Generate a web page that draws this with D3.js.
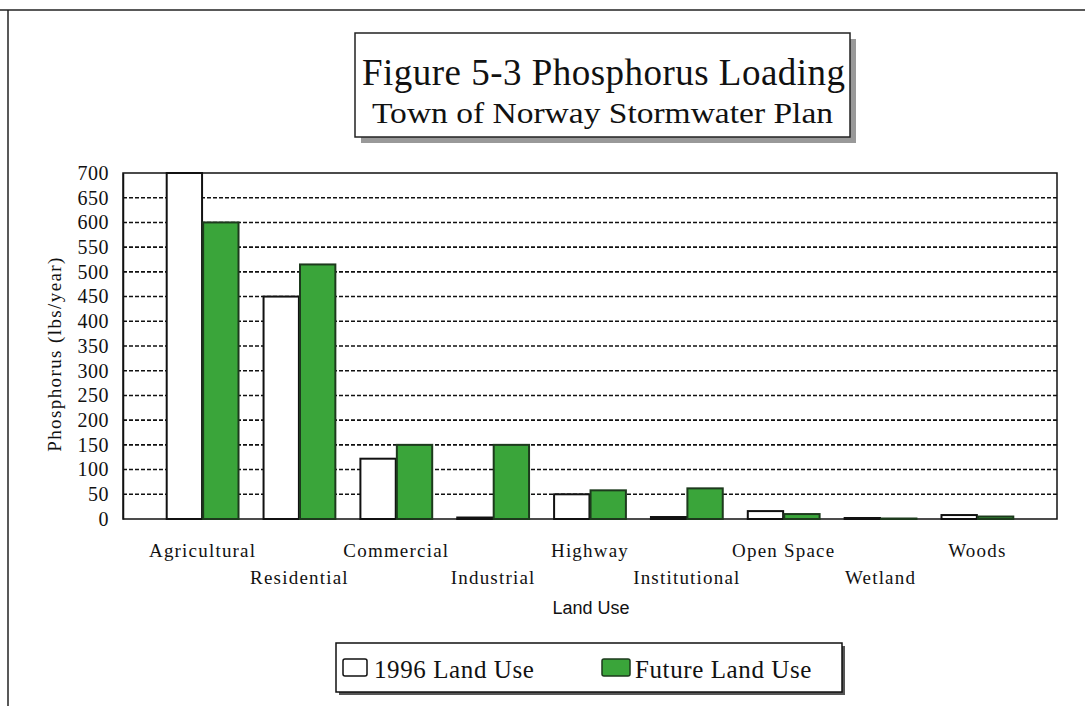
<!DOCTYPE html>
<html>
<head>
<meta charset="utf-8">
<script src="https://cdn.jsdelivr.net/npm/d3@7"></script>
<style>
  body { margin: 0; background: #fff; }
  svg { display: block; }
  .serif { font-family: 'Liberation Serif', 'Times New Roman', serif; fill: #111; }
  .sans { font-family: 'Liberation Sans', Arial, sans-serif; fill: #111; }
</style>
</head>
<body>
<div id="chart"></div>
<script>
// data
const categories = ['Agricultural', 'Residential', 'Commercial', 'Industrial', 'Highway',
  'Institutional', 'Open Space', 'Wetland', 'Woods'];
const landUse1996 = [700, 450, 122, 3, 50, 4, 16, 2, 8];
const landUseFuture = [600, 515, 150, 150, 58, 62, 10, 1, 5];
const seriesNames = ['1996 Land Use', 'Future Land Use'];
const yTicks = d3.range(0, 701, 50);

const W = 1085, H = 717;
const margin = {top: 173, right: 28, bottom: 198, left: 123};
const width = W - margin.left - margin.right;
const height = H - margin.top - margin.bottom;
const green = '#3aa53a';

const svg = d3.select('#chart').append('svg')
  .attr('width', W)
  .attr('height', H);

// page frame (top rule + left rule)
svg.append('line').attr('x1', 0).attr('x2', W).attr('y1', 10).attr('y2', 10)
  .attr('stroke', '#222').attr('stroke-width', 1.5);
svg.append('line').attr('x1', 8).attr('x2', 8).attr('y1', 10).attr('y2', 706)
  .attr('stroke', '#222').attr('stroke-width', 1.5);

// title box with shadow
const tb = {x: 355, y: 33, w: 495, h: 104};
svg.append('rect').attr('x', tb.x + 6).attr('y', tb.y + 6).attr('width', tb.w).attr('height', tb.h)
  .attr('fill', '#999');
svg.append('rect').attr('x', tb.x).attr('y', tb.y).attr('width', tb.w).attr('height', tb.h)
  .attr('fill', '#fff').attr('stroke', '#222').attr('stroke-width', 1.5);
svg.append('text').attr('class', 'serif')
  .attr('x', 362).attr('y', 85)
  .attr('textLength', 483).attr('lengthAdjust', 'spacing')
  .style('font-size', '37px')
  .text('Figure 5-3 Phosphorus Loading');
svg.append('text').attr('class', 'serif')
  .attr('x', 372).attr('y', 123)
  .attr('textLength', 461).attr('lengthAdjust', 'spacingAndGlyphs')
  .style('font-size', '29px')
  .text('Town of Norway Stormwater Plan');

const g = svg.append('g')
  .attr('transform', 'translate(' + margin.left + ',' + margin.top + ')');

const x0 = d3.scaleBand()
  .domain(categories)
  .range([0, width])
  .paddingInner(0.236)
  .paddingOuter(0.44);

const x1 = d3.scaleBand()
  .domain(seriesNames)
  .range([0, x0.bandwidth()])
  .padding(0.03);

const y = d3.scaleLinear()
  .domain([0, 700])
  .range([height, 0]);

// dashed gridlines
g.append('g')
  .selectAll('line')
  .data(yTicks.filter(d => d > 0 && d < 700))
  .join('line')
  .attr('x1', 0).attr('x2', width)
  .attr('y1', d => y(d)).attr('y2', d => y(d))
  .attr('stroke', '#111')
  .attr('stroke-width', 1.6)
  .attr('stroke-dasharray', '4,2');

// plot frame
g.append('rect')
  .attr('width', width).attr('height', height)
  .attr('fill', 'none').attr('stroke', '#111').attr('stroke-width', 1.5);

// bars
const rows = categories.map((c, i) => ({
  cat: c,
  vals: [
    {key: seriesNames[0], v: landUse1996[i]},
    {key: seriesNames[1], v: landUseFuture[i]}
  ]
}));

g.append('g')
  .selectAll('g')
  .data(rows)
  .join('g')
  .attr('transform', d => 'translate(' + x0(d.cat) + ',0)')
  .selectAll('rect')
  .data(d => d.vals)
  .join('rect')
  .attr('x', d => x1(d.key))
  .attr('width', x1.bandwidth())
  .attr('y', d => y(d.v))
  .attr('height', d => y(0) - y(d.v))
  .attr('fill', d => d.key === seriesNames[0] ? '#fff' : green)
  .attr('stroke', d => d.key === seriesNames[0] ? '#111' : '#1d3a1d')
  .attr('stroke-width', 2);

// y axis
const yAxis = g.append('g')
  .call(d3.axisLeft(y).tickValues(yTicks).tickSize(0).tickPadding(14));
yAxis.select('.domain').attr('stroke', '#111').attr('stroke-width', 1.5);
yAxis.selectAll('text')
  .attr('class', 'serif')
  .style('font-size', '20px')
  .style('letter-spacing', '0.5px');

svg.append('text').attr('class', 'serif')
  .attr('transform', 'translate(61,' + (margin.top + height / 2 + 8) + ') rotate(-90)')
  .attr('text-anchor', 'middle').style('font-size', '19px')
  .style('letter-spacing', '1.4px')
  .text('Phosphorus (lbs/year)');

// staggered category labels
g.append('g')
  .selectAll('text')
  .data(categories)
  .join('text')
  .attr('class', 'serif')
  .attr('x', d => x0(d) + x0.bandwidth() / 2)
  .attr('y', (d, i) => height + (i % 2 === 0 ? 38 : 65))
  .attr('text-anchor', 'middle')
  .style('font-size', '19px')
  .style('letter-spacing', '1.2px')
  .text(d => d);

svg.append('text').attr('class', 'sans')
  .attr('x', 591).attr('y', 614)
  .attr('text-anchor', 'middle').style('font-size', '18px')
  .text('Land Use');

// legend box with shadow
const lb = {x: 336, y: 643, w: 506, h: 49};
svg.append('rect').attr('x', lb.x + 3).attr('y', lb.y + 3).attr('width', lb.w).attr('height', lb.h)
  .attr('fill', '#555');
svg.append('rect').attr('x', lb.x).attr('y', lb.y).attr('width', lb.w).attr('height', lb.h)
  .attr('fill', '#fff').attr('stroke', '#111').attr('stroke-width', 1.5);

const legendX = [343, 602];
const leg = svg.append('g')
  .selectAll('g')
  .data(seriesNames)
  .join('g')
  .attr('transform', (d, i) => 'translate(' + legendX[i] + ',' + (lb.y + 16) + ')');
leg.append('rect')
  .attr('width', (d, i) => i === 0 ? 24 : 28).attr('height', 17).attr('rx', 2)
  .attr('fill', (d, i) => i === 0 ? '#fff' : green)
  .attr('stroke', (d, i) => i === 0 ? '#111' : '#1d3a1d')
  .attr('stroke-width', 1.5);
leg.append('text').attr('class', 'serif')
  .attr('x', (d, i) => i === 0 ? 31 : 33).attr('y', 19)
  .style('font-size', '25px')
  .style('letter-spacing', '0.6px')
  .text(d => d);
</script>
</body>
</html>
